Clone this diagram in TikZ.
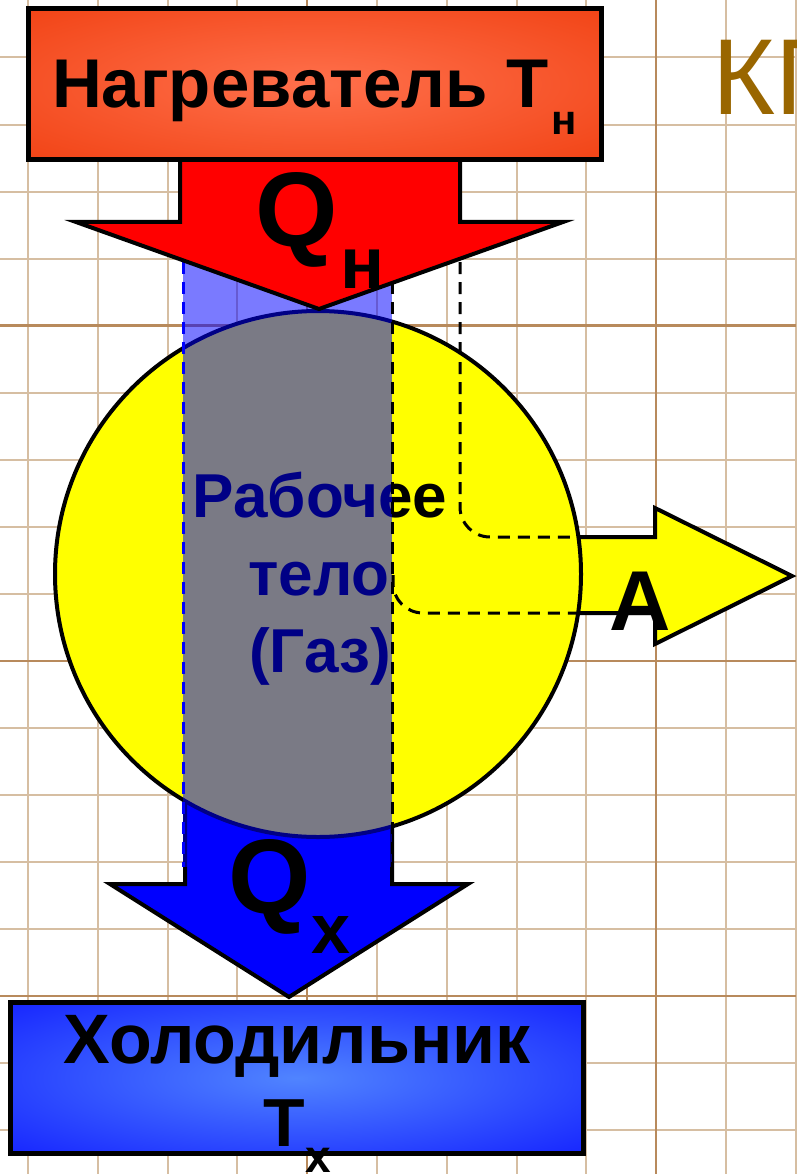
\documentclass[tikz,border=0pt]{standalone}
\usepackage{fontspec}
\setmainfont{Liberation Sans}
\definecolor{gridminor}{RGB}{214,190,162}
\definecolor{gridmajor}{RGB}{184,138,92}
\definecolor{hotin}{RGB}{255,112,76}
\definecolor{hotout}{RGB}{236,50,0}
\definecolor{coldin}{RGB}{80,132,255}
\definecolor{coldout}{RGB}{0,0,255}
\definecolor{kpdcol}{RGB}{153,102,0}
\definecolor{pureyellow}{RGB}{255,255,0}
\definecolor{purered}{RGB}{255,0,0}
\definecolor{pureblue}{RGB}{0,0,255}
\pgfdeclareradialshading{hotglow}{\pgfpoint{0bp}{0bp}}{color(0bp)=(hotin); color(50bp)=(hotout); color(72bp)=(hotout)}
\pgfdeclareradialshading{coldglow}{\pgfpoint{0bp}{0bp}}{color(0bp)=(coldin); color(50bp)=(coldout); color(72bp)=(coldout)}
\tikzset{
  minorline/.style={gridminor, line width=2pt},
  majorline/.style={gridmajor, line width=2.5pt},
  arrowshape/.style={draw=black, line width=4pt, line join=miter},
  tempbox/.style={draw=black, line width=5pt, rectangle, inner sep=0pt, minimum width=573pt, minimum height=151pt},
  lbl/.style={inner sep=0pt, outer sep=0pt, text=black, font=\bfseries},
  bandedge/.style={line width=3pt, dash pattern=on 12pt off 8pt},
}
\newcommand{\fsz}[1]{\fontsize{#1}{#1}\selectfont}
\begin{document}
\begin{tikzpicture}[x=1pt, y=-1pt]
\useasboundingbox (0,0) rectangle (796,1174);
\fill[white] (0,0) rectangle (796,1174);
% grid
\foreach \i in {0,...,11} \draw[minorline] ({28+69.8*\i},0) -- ({28+69.8*\i},1174);
\foreach \j in {0,...,16} \draw[minorline] (0,{57.5+67.05*\j}) -- (796,{57.5+67.05*\j});
\foreach \i in {4,9} \draw[majorline] ({28+69.8*\i},0) -- ({28+69.8*\i},1174);
\foreach \j in {4,9,14} \draw[majorline] (0,{57.5+67.05*\j}) -- (796,{57.5+67.05*\j});
% blue arrow (Q_x)
\filldraw[arrowshape, fill=pureblue] (185,700) -- (185,884) -- (110,884) -- (289,997) -- (468,884) -- (392,884) -- (392,700);
% yellow arrow (A)
\filldraw[arrowshape, fill=pureyellow] (520,537) -- (655,537) -- (655,508) -- (792,576) -- (655,644) -- (655,613) -- (520,613);
% working body
\node[circle, draw=black, line width=4pt, fill=pureyellow, minimum size=526pt, inner sep=0pt] (body) at (318,574) {};
\node[lbl, anchor=base] (body1) at (320,517) {\fsz{62}Рабочее};
\node[lbl, anchor=base] (body2) at (319,595) {\fsz{62}тело};
\node[lbl, anchor=base] (body3) at (320,672) {\fsz{62}(Газ)};
% translucent band
\fill[pureblue, opacity=0.52] (183,230) rectangle (392,867);
\draw[bandedge, pureblue] (183,262) -- (183,867);
\draw[bandedge, black] (392,262) -- (392,867);
% dashed work paths
\draw[bandedge, black, rounded corners=30pt] (460,222) -- (460,537) -- (583,537);
\draw[bandedge, black, rounded corners=30pt] (393,575) -- (393,613) -- (579,613);
% red arrow (Q_n)
\filldraw[arrowshape, fill=purered] (180,160) -- (180,222) -- (76,222) -- (319,309) -- (563,222) -- (460,222) -- (460,160);
% heater
\node[tempbox, shading=hotglow] (heater) at (315,84) {};
\node[lbl, anchor=base west] (heatertext) at (52,108) {\fsz{69}Нагреватель Т};
\node[lbl, anchor=base west] (heatersub) at (551,135) {\fsz{42}н};
% cooler
\node[tempbox, shading=coldglow] (cooler) at (297,1078) {};
\node[lbl, anchor=base] (coolertext) at (297,1063) {\fsz{70}Холодильник};
\node[lbl, anchor=base west] (coolerT) at (263,1146) {\fsz{68}Т};
\node[lbl, anchor=base west] (coolersub) at (305,1172) {\fsz{46}х};
% heat labels
\node[lbl, anchor=base west] (qhot) at (255,247) {\fsz{106}Q};
\node[lbl, anchor=base west] (qhotsub) at (340,288) {\fsz{73}н};
\node[lbl, anchor=base west] (qcold) at (228,913) {\fsz{106}Q};
\node[lbl, anchor=base west] (qcoldsub) at (311,953) {\fsz{70}х};
\node[lbl, anchor=base west] (work) at (609,630) {\fsz{85}А};
% title fragment
\node[inner sep=0pt, anchor=base west, text=kpdcol] (kpd) at (712,115) {\fsz{108}КП};
\end{tikzpicture}
\end{document}
